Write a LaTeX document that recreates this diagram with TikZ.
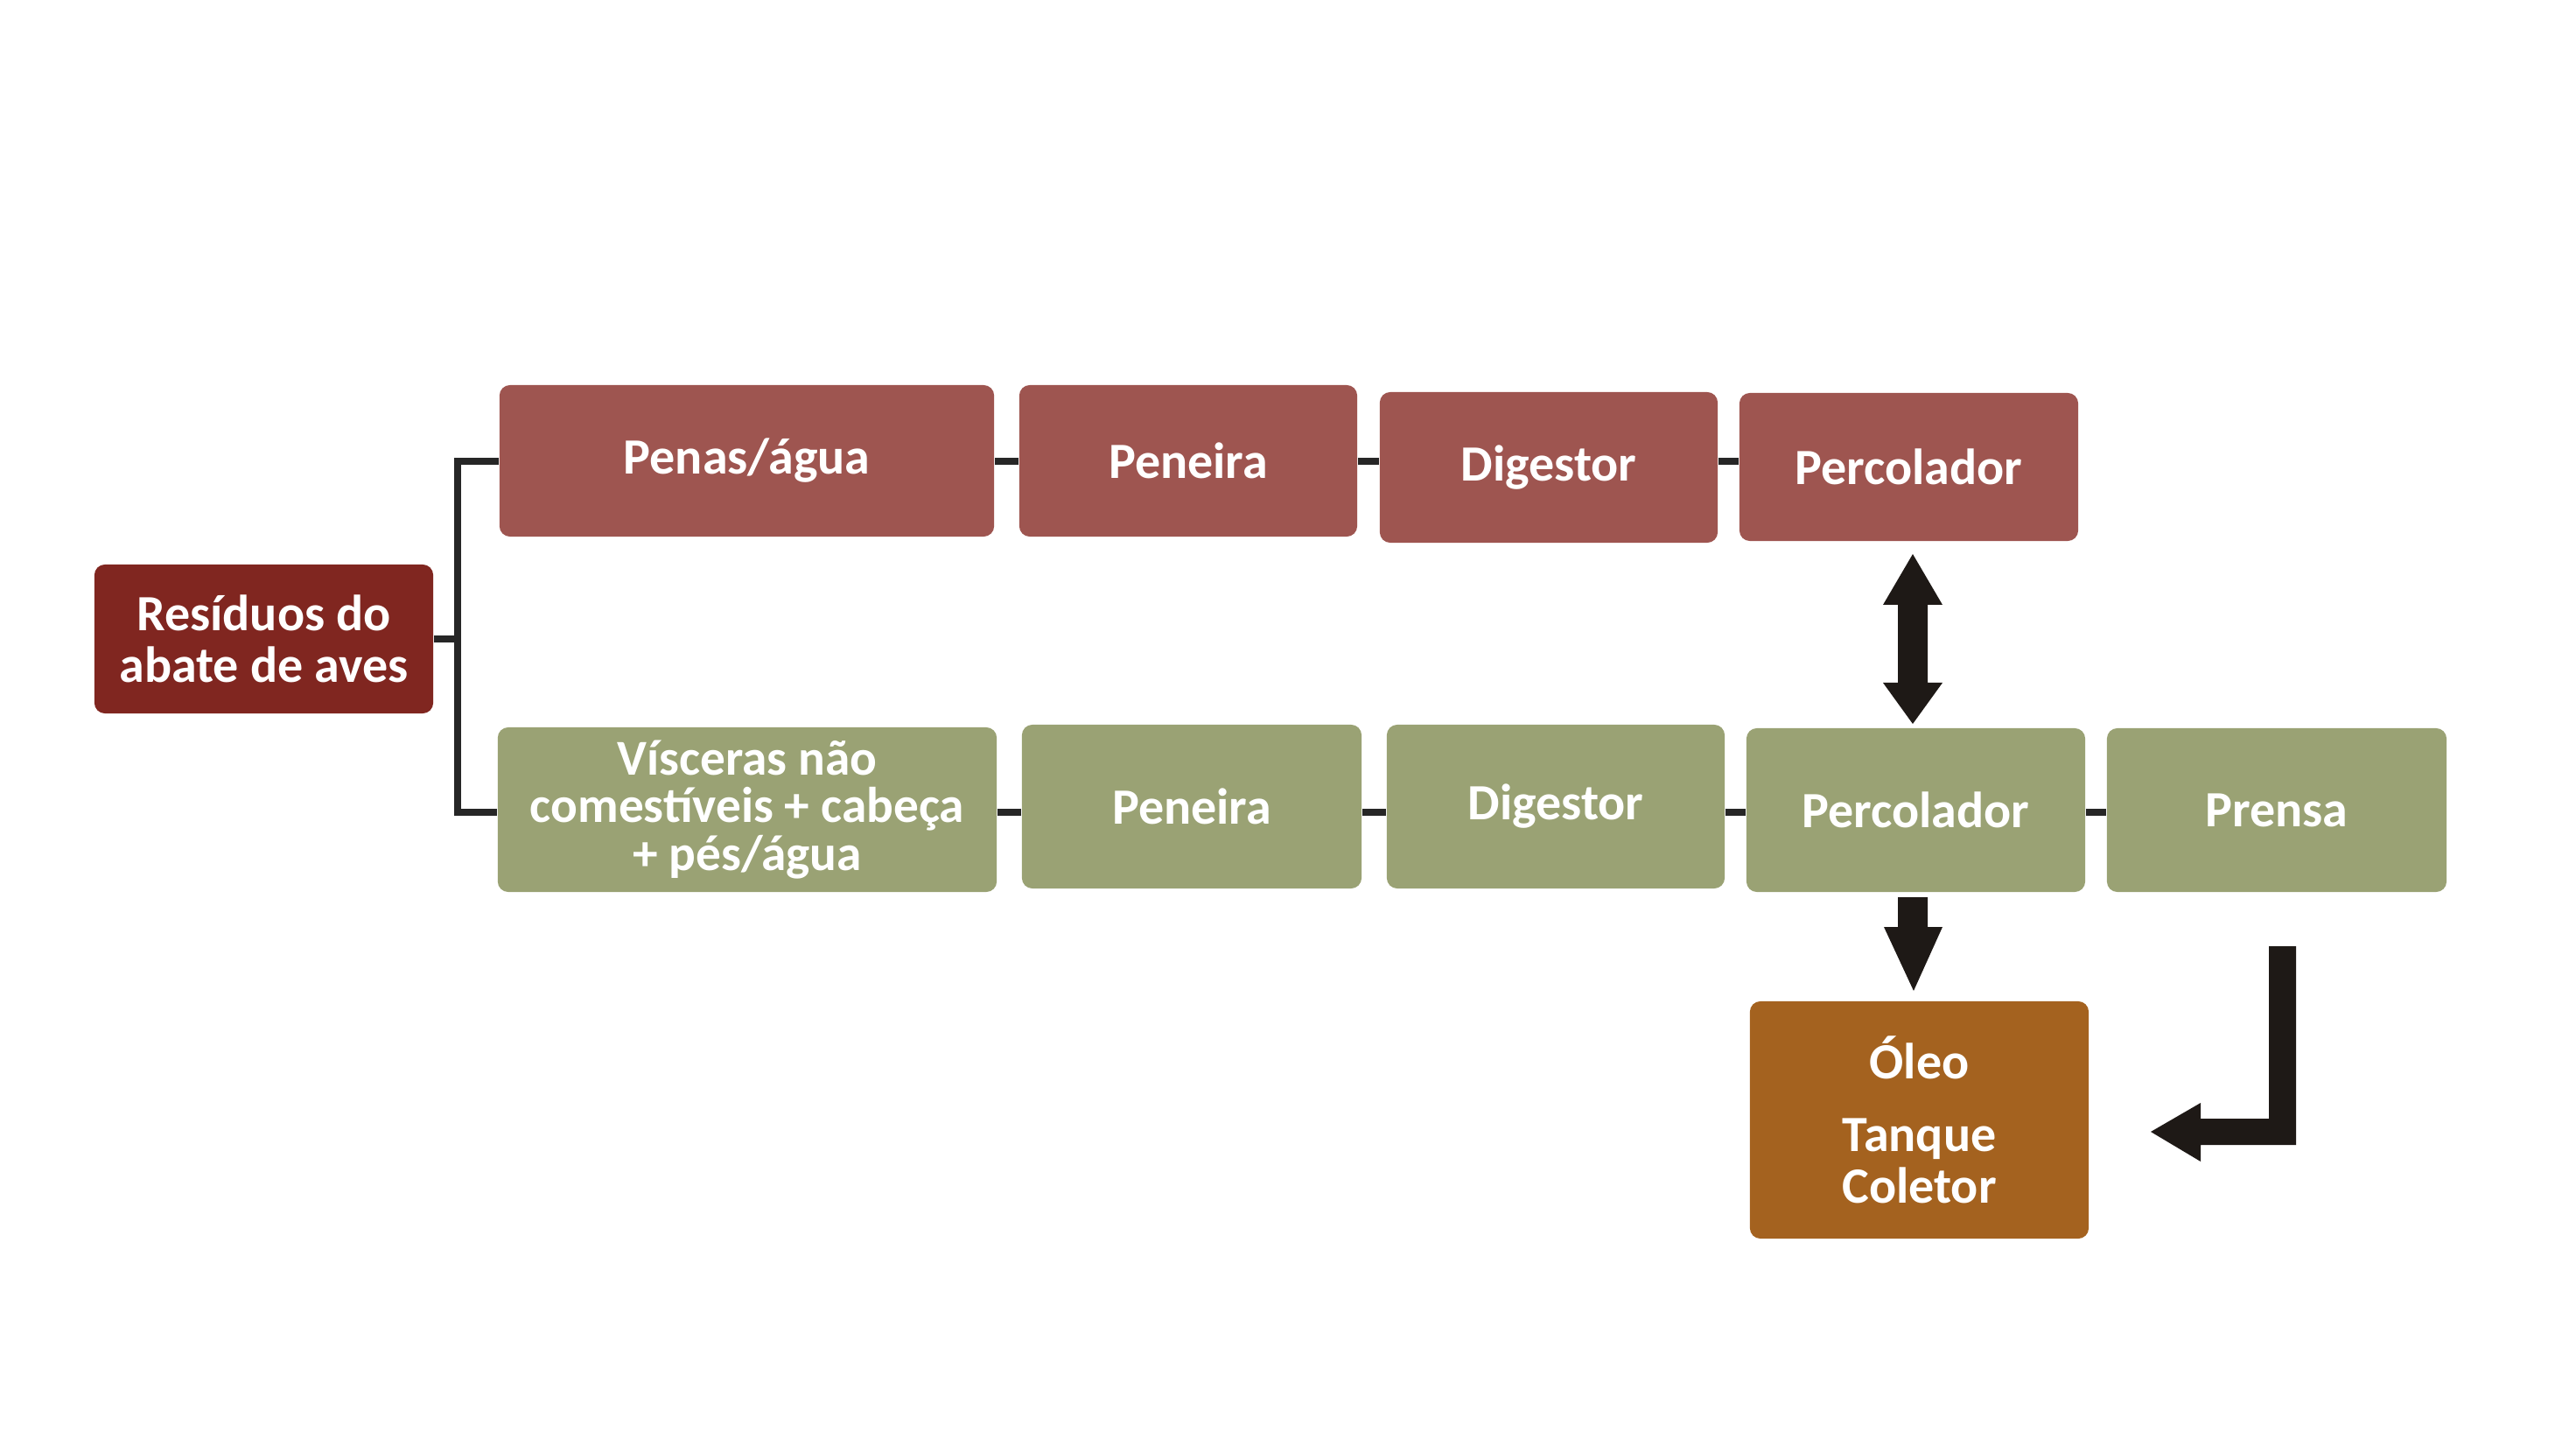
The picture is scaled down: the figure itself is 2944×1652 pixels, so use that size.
\documentclass[tikz,border=0pt]{standalone}
\usepackage{fontspec}
\setmainfont{Carlito}
\definecolor{boxred}{HTML}{9E5550}
\definecolor{boxdark}{HTML}{802620}
\definecolor{boxgreen}{HTML}{9AA274}
\definecolor{boxorange}{HTML}{A4621F}
\definecolor{arrowdark}{HTML}{1E1916}
\definecolor{linedark}{HTML}{262626}
\tikzset{
  box/.style={rounded corners=0.12cm, text=white, align=center, inner sep=0pt,
    font=\bfseries\fontsize{16.5}{16.8}\selectfont},
  redbox/.style={box, fill=boxred},
  darkbox/.style={box, fill=boxdark},
  greenbox/.style={box, fill=boxgreen},
  orangebox/.style={box, fill=boxorange},
  conn/.style={draw=linedark, line width=2.1pt},
  blockarrow/.style={fill=arrowdark, draw=none}
}
\begin{document}
\begin{tikzpicture}[x=0.01cm, y=-0.01cm]
\useasboundingbox (0,0) rectangle (2944,1652);
% nodes
\node[darkbox, minimum width=3.87cm, minimum height=1.70cm] (res) at (301.5,730) {Resíduos do\\abate de aves};
\node[redbox, minimum width=5.65cm, minimum height=1.73cm] (penas) at (853.5,526.5) {Penas/água};
\node[redbox, minimum width=3.86cm, minimum height=1.73cm] (pen1) at (1358,526.5) {Peneira};
\node[redbox, minimum width=3.86cm, minimum height=1.72cm] (dig1) at (1770,534) {Digestor};
\node[redbox, minimum width=3.87cm, minimum height=1.69cm] (per1) at (2181.5,533.5) {Percolador};
\node[greenbox, minimum width=5.70cm, minimum height=1.88cm,
  font=\bfseries\fontsize{16.3}{15.6}\selectfont] (visc) at (854,925) {Vísceras não\\comestíveis + cabeça\\+ pés/água};
\node[greenbox, minimum width=3.88cm, minimum height=1.87cm] (pen2) at (1362,921.5) {Peneira};
\node[greenbox, minimum width=3.86cm, minimum height=1.87cm] (dig2) at (1778,921.5) {Digestor};
\node[greenbox, minimum width=3.87cm, minimum height=1.87cm] (per2) at (2189.5,925.5) {Percolador};
\node[greenbox, minimum width=3.88cm, minimum height=1.87cm] (prensa) at (2602,925.5) {Prensa};
\node[orangebox, minimum width=3.87cm, minimum height=2.71cm] (oleo) at (2193.5,1279.5) {Óleo\\[0.24cm]Tanque\\Coletor};
% helper coordinates
\coordinate (jx) at (523,0);
\coordinate (yt) at (0,527);
\coordinate (yb) at (0,928);
% bracket
\draw[conn] (res.east) -- (res.east -| jx);
\draw[conn] (penas.west |- yt) -- (jx |- yt) -- (jx |- yb) -- (visc.west |- yb);
% top row
\draw[conn] (penas.east |- yt) -- (pen1.west |- yt);
\draw[conn] (pen1.east |- yt) -- (dig1.west |- yt);
\draw[conn] (dig1.east |- yt) -- (per1.west |- yt);
% bottom row
\draw[conn] (visc.east |- yb) -- (pen2.west |- yb);
\draw[conn] (pen2.east |- yb) -- (dig2.west |- yb);
\draw[conn] (dig2.east |- yb) -- (per2.west |- yb);
\draw[conn] (per2.east |- yb) -- (prensa.west |- yb);
% block arrows
\fill[blockarrow] (2186,633) -- (2220,691) -- (2203,691) -- (2203,780) -- (2220,780) -- (2186,827)
  -- (2152,780) -- (2169,780) -- (2169,691) -- (2152,691) -- cycle;
\fill[blockarrow] (2169,1025) -- (2203,1025) -- (2203,1059) -- (2220,1059) -- (2187,1132)
  -- (2153,1059) -- (2169,1059) -- cycle;
\fill[blockarrow] (2593,1081) -- (2624,1081) -- (2624,1308) -- (2515,1308) -- (2515,1327)
  -- (2458,1293) -- (2515,1260) -- (2515,1278) -- (2593,1278) -- cycle;
\end{tikzpicture}
\end{document}
